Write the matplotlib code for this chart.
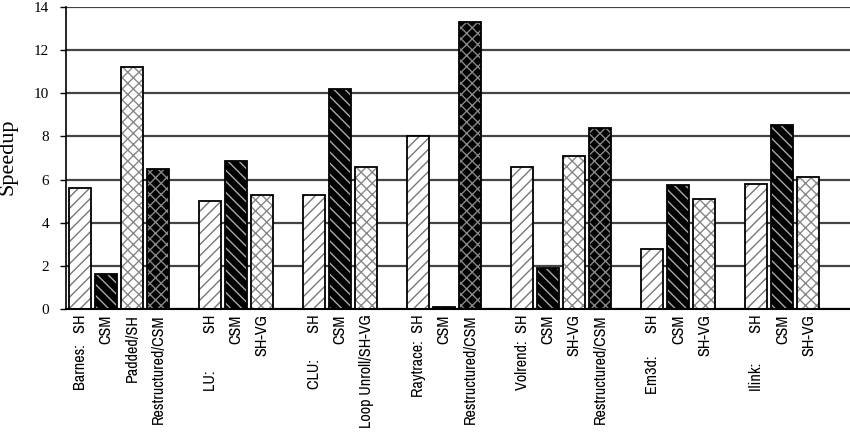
import matplotlib
matplotlib.use("Agg")
import matplotlib.pyplot as plt
from matplotlib import font_manager

# bar labels and speedups, left to right (one empty slot between benchmarks)
labels = ["Barnes:   SH", "CSM", "Padded/SH", "Restructured/CSM",
          "LU:          SH", "CSM", "SH-VG",
          "CLU:       SH", "CSM", "Loop Unroll/SH-VG",
          "Raytrace:  SH", "CSM", "Restructured/CSM",
          "Volrend:  SH", "CSM", "SH-VG", "Restructured/CSM",
          "Em3d:      SH", "CSM", "SH-VG",
          "Ilink:        SH", "CSM", "SH-VG"]
speedups = [5.6, 1.6, 11.2, 6.5,
            5.0, 6.85, 5.3,
            5.3, 10.2, 6.6,
            8.0, 0.1, 13.3,
            6.6, 1.9, 7.1, 8.4,
            2.8, 5.75, 5.1,
            5.8, 8.55, 6.13]
kinds = ["sh", "csm", "pad", "restr",
         "sh", "csm", "pad",
         "sh", "csm", "pad",
         "sh", "csm", "restr",
         "sh", "csm", "pad", "restr",
         "sh", "csm", "pad",
         "sh", "csm", "pad"]
group_sizes = [4, 3, 3, 3, 4, 3, 3]

# fill, hatch, hatch colour per bar kind
styles = {
    "sh": ("white", "///", "#777777"),
    "csm": ("black", "\\\\\\", "#aaaaaa"),
    "pad": ("white", "xxx", "#888888"),
    "restr": ("black", "xxx", "#888888"),
}

# x slots: groups separated by one empty slot
positions = []
slot = 0
for n in group_sizes:
    positions += list(range(slot, slot + n))
    slot += n + 1

# pick a condensed sans for the bar labels
installed = {f.name for f in font_manager.fontManager.ttflist}
narrow = "Liberation Sans"
for cand in ["Liberation Sans Narrow", "Arial Narrow", "Archivo Narrow",
             "PT Sans Narrow", "Roboto Condensed", "Pragati Narrow",
             "Open Sans Condensed", "DejaVu Sans Condensed"]:
    if cand in installed:
        narrow = cand
        break

fig = plt.figure(figsize=(8.5, 4.36), dpi=100)
ax = fig.add_axes([66 / 850, 1 - 309 / 436, 1 - 66 / 850, 302 / 436])

ax.set_ylim(0, 14)
ax.set_xlim(-0.55, 29.6)
ax.set_yticks(range(0, 15, 2))
ax.yaxis.grid(True, color="#444444", linewidth=1.6)
ax.set_axisbelow(True)

width = 0.84
for x, v, k in zip(positions, speedups, kinds):
    face, hatch, hcol = styles[k]
    ax.bar(x, v, width=width, color=face, hatch=hatch, edgecolor=hcol,
           linewidth=0, zorder=2)
    ax.bar(x, v, width=width, fill=False, edgecolor="black", linewidth=1.3,
           zorder=3)

ax.set_xticks(positions)
ax.set_xticklabels(labels, rotation=90, fontsize=11.7, family=narrow,
                   va="top", ha="center")
ax.tick_params(axis="x", length=0, pad=4)
ax.tick_params(axis="y", length=4, width=1, direction="out",
               labelsize=11, pad=8)
for t in ax.get_yticklabels():
    t.set_family("Liberation Serif")

ax.spines["top"].set_visible(False)
ax.spines["right"].set_visible(False)
ax.spines["left"].set_linewidth(1.2)
ax.spines["bottom"].set_linewidth(1.5)

fig.text(0.009, 1 - 157 / 436, "Speedup", rotation=90, fontsize=16,
         family="Liberation Serif", ha="center", va="center")

fig.savefig("out.png", dpi=100)
